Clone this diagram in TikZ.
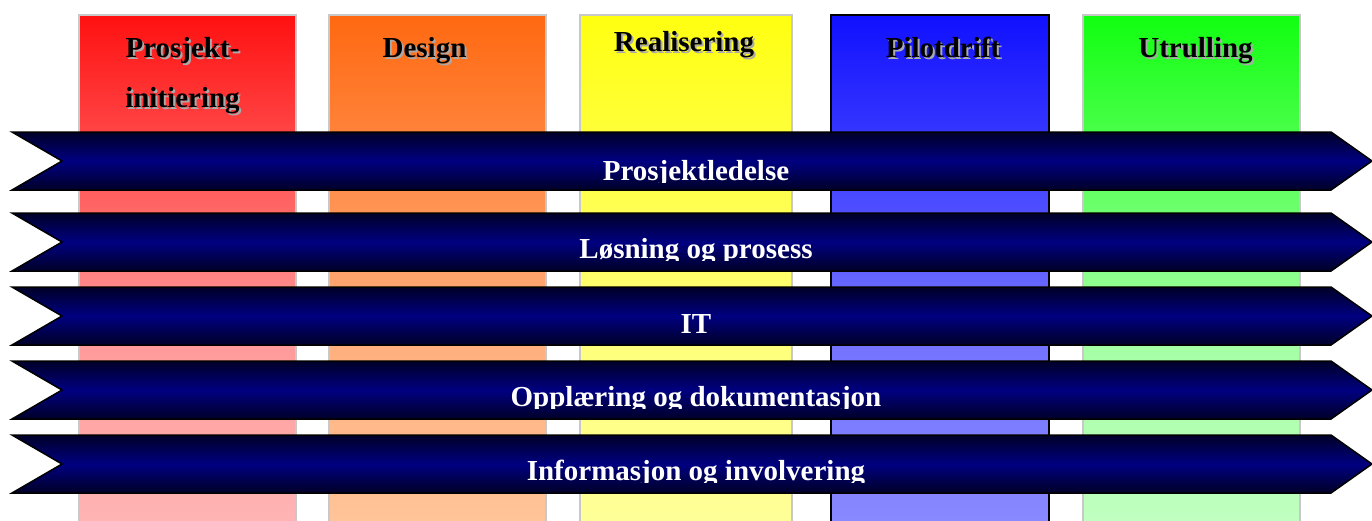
\documentclass[tikz,border=0pt]{standalone}
\usepackage{fontspec}
\setmainfont{Liberation Serif}
\definecolor{c1t}{RGB}{255,16,16}\definecolor{c1m}{RGB}{255,150,150}\definecolor{c1b}{RGB}{255,180,180}
\definecolor{c2t}{RGB}{255,104,16}\definecolor{c2m}{RGB}{255,172,122}\definecolor{c2b}{RGB}{255,196,152}
\definecolor{c3t}{RGB}{255,255,16}\definecolor{c3m}{RGB}{255,255,120}\definecolor{c3b}{RGB}{255,255,152}
\definecolor{c4t}{RGB}{16,16,255}\definecolor{c4m}{RGB}{112,112,255}\definecolor{c4b}{RGB}{136,136,255}
\definecolor{c5t}{RGB}{16,255,16}\definecolor{c5m}{RGB}{160,255,160}\definecolor{c5b}{RGB}{192,255,192}
\definecolor{graybord}{RGB}{200,200,200}
\definecolor{hdrshade}{RGB}{170,170,170}
\definecolor{banddark}{RGB}{0,0,40}
\definecolor{bandmid}{RGB}{0,0,128}
\newcommand\phasecol[6]{%
  \shade[top color=#3,bottom color=#4] (#1,14) rectangle (#2,317);
  \shade[top color=#4,bottom color=#5] (#1,316) rectangle (#2,521);
  \draw[#6] (#1,15) rectangle (#2,522);}
\begin{document}
\begin{tikzpicture}[x=1pt,y=-1pt,
  hdr/.style={anchor=base,inner sep=0pt,font=\fontsize{29}{35}\selectfont\bfseries,text=black},
  hdrsh/.style={hdr,text=hdrshade},
  band/.style={draw=black,line width=1.5pt,line join=miter,top color=banddark,bottom color=banddark,middle color=bandmid},
  bandtext/.style={anchor=base,inner sep=0pt,font=\fontsize{29}{35}\selectfont\bfseries,text=white},
  grayframe/.style={draw=graybord,line width=2.5pt},
  blackframe/.style={draw=black,line width=2pt}]
\useasboundingbox (0,0) rectangle (1372,520);
% phase columns
\phasecol{79}{296}{c1t}{c1m}{c1b}{grayframe}
\phasecol{329}{546}{c2t}{c2m}{c2b}{grayframe}
\phasecol{580}{792}{c3t}{c3m}{c3b}{grayframe}
\phasecol{831}{1049}{c4t}{c4m}{c4b}{blackframe}
\phasecol{1083}{1300}{c5t}{c5m}{c5b}{grayframe}
% headers
\node[hdrsh] (h1s) at (184.5,59) {Prosjekt-};
\node[hdr]   (h1)  at (182.5,57) {Prosjekt-};
\node[hdrsh] (h1bs) at (184.5,109) {initiering};
\node[hdr]   (h1b)  at (182.5,107) {initiering};
\node[hdrsh] (h2s) at (426.5,59) {Design};
\node[hdr]   (h2)  at (424.5,57) {Design};
\node[hdrsh] (h3s) at (686,53) {Realisering};
\node[hdr]   (h3)  at (684,51) {Realisering};
\node[hdrsh] (h4s) at (945,59) {Pilotdrift};
\node[hdr]   (h4)  at (943,57) {Pilotdrift};
\node[hdrsh] (h5s) at (1197.5,59) {Utrulling};
\node[hdr]   (h5)  at (1195.5,57) {Utrulling};
% bands
\foreach \t/\b/\bl/\lab/\nm in {132/190/180/Prosjektledelse/b1,
                                213/271/258/{Løsning og prosess}/b2,
                                287/345/333/IT/b3,
                                361/419/406/{Opplæring og dokumentasjon}/b4,
                                435/493/480/{Informasjon og involvering}/b5}{
  \pgfmathsetmacro\m{(\t+\b)/2}
  \draw[band] (12,\t) -- (1331,\t) -- (1372,\m) -- (1331,\b) -- (12,\b) -- (62,\m) -- cycle;
  \begin{scope}
    \clip (12,\t) rectangle (1372,\bl+2);
    \node[bandtext] (\nm) at (696,\bl) {\lab};
  \end{scope}
}
\end{tikzpicture}
\end{document}
